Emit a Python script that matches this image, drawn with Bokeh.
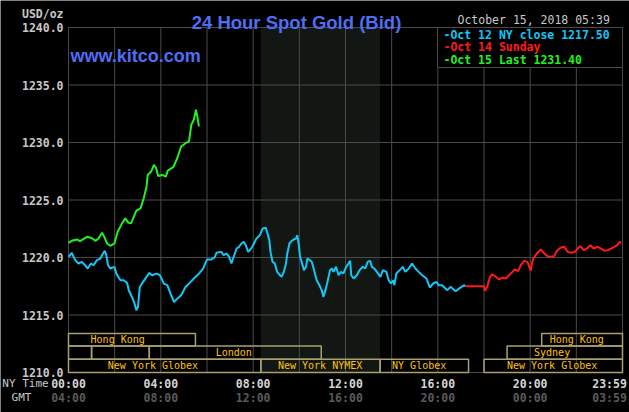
import numpy as np
from bokeh.plotting import figure
from bokeh.models import Range1d, ColumnDataSource
from bokeh.core.properties import value
from bokeh.embed import file_html
from bokeh.resources import INLINE

# ---------------- data (hours NY time, USD/oz) ----------------
cyan_h = [0.0, 0.14, 0.29, 0.43, 0.58, 0.72, 0.83, 0.97, 1.09, 1.23, 1.38, 1.45, 1.57, 1.64, 1.71, 1.81,
          1.99, 2.07, 2.25, 2.39, 2.54, 2.61, 2.75, 2.86, 2.94, 3.01, 3.09, 3.23, 3.38, 3.49, 3.62, 3.81,
          3.96, 4.13, 4.28, 4.42, 4.57, 4.71, 4.88, 5.07, 5.29, 5.43, 5.65, 5.83, 6.0, 6.19, 6.33, 6.41,
          6.62, 6.72, 6.84, 6.96, 7.06, 7.13, 7.28, 7.39, 7.49, 7.59, 7.68, 7.78, 7.88, 8.0, 8.14, 8.29,
          8.41, 8.55, 8.62, 8.7, 8.75, 8.84, 8.94, 9.04, 9.16, 9.23, 9.33, 9.42, 9.48, 9.57, 9.67, 9.77,
          9.86, 9.91, 9.97, 10.03, 10.1, 10.2, 10.29, 10.35, 10.46, 10.54, 10.64, 10.75, 10.87, 10.97,
          11.04, 11.13, 11.22, 11.33, 11.41, 11.48, 11.59, 11.7, 11.8, 11.91, 12.03, 12.13, 12.2, 12.25,
          12.35, 12.49, 12.61, 12.75, 12.86, 12.96, 13.07, 13.14, 13.25, 13.36, 13.51, 13.62, 13.77,
          13.87, 13.97, 14.06, 14.12, 14.2, 14.35, 14.49, 14.59, 14.74, 14.88, 15.03, 15.17, 15.32,
          15.51, 15.65, 15.8, 15.94, 16.04, 16.19, 16.41, 16.55, 16.77, 16.96, 17.13, 17.2]
cyan_v = [1220.06, 1220.4, 1219.77, 1219.48, 1219.62, 1219.33, 1219.04, 1219.48, 1219.33, 1219.77,
          1219.91, 1220.2, 1220.58, 1220.2, 1219.33, 1219.04, 1219.19, 1218.6, 1218.02, 1218.02,
          1217.79, 1217.15, 1216.57, 1215.99, 1215.41, 1215.7, 1217.44, 1217.88, 1218.31, 1218.66,
          1218.46, 1218.6, 1218.46, 1217.73, 1217.59, 1216.86, 1216.13, 1216.42, 1216.72, 1217.44,
          1217.88, 1218.17, 1218.6, 1219.04, 1219.83, 1219.83, 1220.0, 1220.41, 1220.49, 1220.2,
          1220.35, 1220.06, 1219.48, 1219.91, 1220.78, 1220.93, 1221.22, 1221.36, 1221.07, 1220.49,
          1220.7, 1221.07, 1221.65, 1221.94, 1222.52, 1222.58, 1222.09, 1221.51, 1220.49, 1219.62,
          1219.48, 1218.75, 1218.46, 1218.32, 1218.75, 1219.48, 1220.35, 1221.22, 1221.45, 1221.57,
          1221.65, 1221.94, 1221.22, 1220.06, 1219.62, 1218.9, 1219.19, 1219.91, 1219.77, 1219.62,
          1218.9, 1218.03, 1217.59, 1217.16, 1216.58, 1217.16, 1217.88, 1218.9, 1219.04, 1218.75,
          1219.19, 1218.46, 1218.75, 1218.61, 1219.19, 1219.48, 1219.71, 1218.46, 1218.17, 1218.46,
          1218.9, 1219.19, 1219.04, 1219.62, 1219.71, 1219.19, 1219.04, 1218.75, 1218.32, 1218.9,
          1218.75, 1218.03, 1217.74, 1218.03, 1217.59, 1218.61, 1218.9, 1219.19, 1218.75, 1219.04,
          1219.48, 1219.04, 1218.75, 1218.46, 1218.17, 1217.39, 1217.74, 1217.88, 1217.59, 1217.59,
          1217.16, 1217.45, 1217.07, 1217.36, 1217.59, 1217.5]

red_h = [17.2, 18.0, 18.04, 18.14, 18.26, 18.36, 18.51, 18.65, 18.8, 18.94, 19.09, 19.23, 19.33, 19.48,
         19.59, 19.74, 19.88, 19.96, 20.03, 20.07, 20.14, 20.29, 20.46, 20.61, 20.75, 20.9, 21.04, 21.16,
         21.33, 21.48, 21.62, 21.77, 21.94, 22.06, 22.17, 22.32, 22.46, 22.61, 22.75, 22.93, 23.07,
         23.22, 23.36, 23.51, 23.65, 23.77, 23.87, 23.94]
red_v = [1217.5, 1217.5, 1217.1, 1217.45, 1218.32, 1218.55, 1218.32, 1218.09, 1218.26, 1218.17, 1218.46,
         1218.75, 1218.96, 1218.81, 1219.33, 1219.71, 1219.62, 1219.19, 1218.84, 1219.48, 1219.91,
         1220.35, 1220.7, 1220.35, 1220.12, 1220.06, 1220.12, 1220.58, 1220.87, 1220.93, 1220.49,
         1220.41, 1220.49, 1220.78, 1220.99, 1220.64, 1220.78, 1221.07, 1220.78, 1220.93, 1220.78,
         1220.58, 1220.64, 1220.78, 1220.93, 1221.07, 1221.36, 1221.28]

green_h = [0.0, 0.14, 0.36, 0.5, 0.8, 1.0, 1.16, 1.3, 1.45, 1.55, 1.67, 1.81, 1.99, 2.13, 2.32, 2.46,
           2.58, 2.71, 2.8, 2.94, 3.12, 3.26, 3.38, 3.43, 3.58, 3.7, 3.8, 3.88, 4.06, 4.22, 4.3, 4.54,
           4.71, 4.88, 5.07, 5.22, 5.32, 5.43, 5.52, 5.58, 5.65]
green_v = [1221.28, 1221.45, 1221.57, 1221.42, 1221.8, 1221.7, 1221.45, 1221.65, 1222.15, 1221.8,
           1221.22, 1221.02, 1221.22, 1222.24, 1222.97, 1223.4, 1223.05, 1222.97, 1223.4, 1224.07,
           1224.27, 1225.15, 1226.16, 1227.18, 1227.47, 1228.05, 1227.76, 1227.09, 1227.18, 1227.03,
           1227.56, 1227.85, 1228.63, 1229.65, 1229.94, 1230.09, 1231.54, 1231.98, 1232.85, 1232.27,
           1231.4]

legend_texts = ["-Oct 12 NY close 1217.50", "-Oct 14 Sunday", "-Oct 15 Last 1231.40"]

# market sessions
sess_start = [0.0, 0.0, 1.0, 3.5, 19.0, 0.0, 8.333, 13.5, 18.0, 20.5]
sess_end   = [5.5, 1.0, 3.5, 10.95, 24.0, 8.333, 13.5, 17.33, 24.0, 24.0]
sess_row   = [1, 2, 2, 2, 2, 3, 3, 3, 3, 1]
sess_label = ["Hong Kong", "", "", "London", "Sydney", "New York Globex", "New York NYMEX",
              "NY Globex", "New York Globex", "Hong Kong"]
sess_lab_h = [2.13, 0, 0, 7.16, 20.95, 3.66, 10.9, 15.19, 20.95, 22.02]

nymex_open, nymex_close = 8.333, 13.5

ny_ticks_h = [0, 4, 8, 12, 16, 20, 23.44]
ny_labels = ["00:00", "04:00", "08:00", "12:00", "16:00", "20:00", "23:59"]
gmt_labels = ["04:00", "08:00", "12:00", "16:00", "20:00", "00:00", "03:59"]
y_ticks = [1210, 1215, 1220, 1225, 1230, 1235, 1240]
x_grid_h = list(range(2, 24, 2))

# ---------------- layout / styling ----------------
W, H = 629, 412
FL, FR, FT, FB = 68, 622, 27, 372          # plotting area in pixels
Y0, Y1 = 1210.0, 1240.0
M = 60.0                                    # minutes per hour
pxh = (FR - FL) / 24.0                      # px per hour
pxv = (FB - FT) / (Y1 - Y0)                 # px per dollar

def px_to_h(px):
    return (px - FL) / pxh

def py_to_v(py):
    return Y1 - (py - FT) / pxv

BG = "#000000"
GRID = "#4a4a4a"
CYAN = "#12c6f6"
RED = "#ff1a1a"
GREEN = "#22f022"
BLUE = "#4f6ef2"
BOX = "#a8a070"
SESS_TXT = "#ffc20e"
LIGHT = "#c8c8c8"
MONO = "DejaVu Sans Mono"

row_bounds = {1: (1212.3, 1213.4), 2: (1211.15, 1212.3), 3: (1210.0, 1211.15)}

p = figure(width=W, height=H, output_backend="svg", toolbar_location=None,
           x_range=Range1d(px_to_h(0) * M, px_to_h(W) * M),
           y_range=Range1d(py_to_v(H), py_to_v(0)),
           x_axis_type=None, y_axis_type=None,
           min_border=0, min_border_left=0, min_border_right=0, min_border_top=0, min_border_bottom=0,
           background_fill_color=BG, border_fill_color=BG, outline_line_color=None)
p.xgrid.visible = False if p.xgrid else None
p.ygrid.visible = False if p.ygrid else None

# NYMEX shading
p.quad(left=[nymex_open * M], right=[nymex_close * M], bottom=[Y0], top=[Y1],
       fill_color="#131713", line_color=None)

# grid lines
p.segment(x0=[h * M for h in x_grid_h], y0=Y0, x1=[h * M for h in x_grid_h], y1=Y1,
          line_color=GRID, line_width=1)
p.segment(x0=0, y0=y_ticks[1:-1], x1=24 * M, y1=y_ticks[1:-1], line_color=GRID, line_width=1)
# plot outline
p.quad(left=[0], right=[24 * M], bottom=[Y0], top=[Y1], fill_color=None, line_color=GRID, line_width=1)

# y tick labels
p.text(x=px_to_h(FL - 5) * M, y=y_ticks, text=[f"{v:.1f}" for v in y_ticks],
       text_font=value(MONO), text_font_style="bold", text_font_size="11.5px",
       text_color=LIGHT, text_align="right", text_baseline="middle")
p.text(x=[px_to_h(FL - 5) * M], y=[py_to_v(13.5)], text=["USD/oz"],
       text_font=value(MONO), text_font_style="bold", text_font_size="11.5px",
       text_color=LIGHT, text_align="right", text_baseline="middle")

# x tick labels
xt = [h * M for h in ny_ticks_h]
p.text(x=xt, y=py_to_v(383), text=ny_labels, text_font=value(MONO), text_font_style="bold",
       text_font_size="11.5px", text_color="#d4d4d4", text_align="center", text_baseline="middle")
p.text(x=xt, y=py_to_v(397), text=gmt_labels, text_font=value(MONO), text_font_style="bold",
       text_font_size="11.5px", text_color="#5a5a5a", text_align="center", text_baseline="middle")
p.text(x=[px_to_h(25) * M, px_to_h(21) * M], y=[py_to_v(383), py_to_v(397)], text=["NY Time", "GMT"],
       text_font=value(MONO), text_font_size="11px", text_color=LIGHT,
       text_align="center", text_baseline="middle")

# session boxes
sb = ColumnDataSource(dict(
    left=[s * M for s in sess_start], right=[e * M for e in sess_end],
    bottom=[row_bounds[r][0] for r in sess_row], top=[row_bounds[r][1] for r in sess_row]))
p.quad(left="left", right="right", bottom="bottom", top="top", source=sb,
       fill_color=None, line_color=BOX, line_width=1.5)
lab_idx = [i for i, l in enumerate(sess_label) if l]
st = ColumnDataSource(dict(
    x=[sess_lab_h[i] * M for i in lab_idx],
    y=[sum(row_bounds[sess_row[i]]) / 2 for i in lab_idx],
    text=[sess_label[i] for i in lab_idx]))
p.text(x="x", y="y", text="text", source=st, text_font=value(MONO), text_font_size="10px",
       text_color=SESS_TXT, text_align="center", text_baseline="middle")

# price lines
p.line(np.array(cyan_h) * M, cyan_v, line_color=CYAN, line_width=2)
p.line(np.array(red_h) * M, red_v, line_color=RED, line_width=2)
p.line(np.array(green_h) * M, green_v, line_color=GREEN, line_width=2)

# legend box
p.quad(left=[px_to_h(437) * M], right=[24 * M], bottom=[py_to_v(67)], top=[Y1],
       fill_color=BG, line_color=GRID, line_width=1)
p.text(x=px_to_h(443) * M, y=[py_to_v(34), py_to_v(46), py_to_v(59)], text=legend_texts,
       text_color=[CYAN, RED, GREEN], text_font=value(MONO), text_font_size="11.5px",
       text_font_style="bold", text_baseline="middle")

# header texts
p.text(x=[px_to_h(296) * M], y=[py_to_v(21.7)], text=["24 Hour Spot Gold (Bid)"], text_color=BLUE,
       text_font=value("Liberation Sans"), text_font_size="18.5px", text_font_style="bold",
       text_align="center", text_baseline="alphabetic")
p.text(x=[px_to_h(70) * M], y=[py_to_v(55)], text=["www.kitco.com"], text_color=BLUE,
       text_font=value("Liberation Sans"), text_font_size="18px", text_font_style="bold",
       text_baseline="alphabetic")
p.text(x=[px_to_h(457) * M], y=[py_to_v(19.5)], text=["October 15, 2018 05:39"], text_color=LIGHT,
       text_font=value(MONO), text_font_size="11.5px", text_baseline="middle")

open("out.html", "w").write(file_html(p, INLINE))
